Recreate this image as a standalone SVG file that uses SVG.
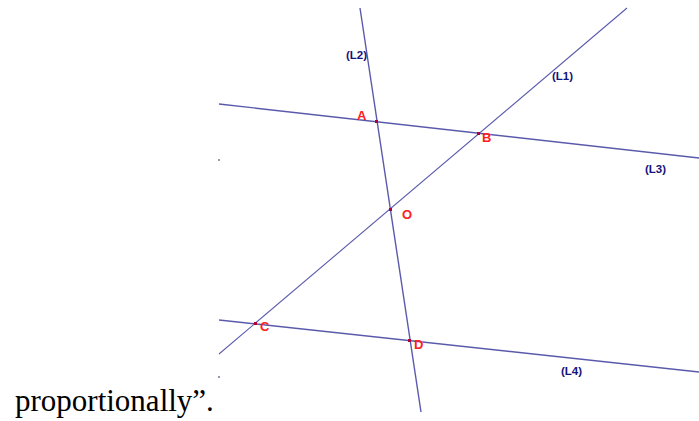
<svg xmlns="http://www.w3.org/2000/svg" width="699" height="421" viewBox="0 0 699 421">
<style>
.ln{stroke:#5a5aac;stroke-width:1.4;fill:none}
.lbl{font-family:"Liberation Sans",Arial,sans-serif;font-size:11.5px;font-weight:bold;fill:#14147a}
.pt{font-family:"Liberation Sans",Arial,sans-serif;font-size:13px;font-weight:bold;fill:#ff2020}
.dot{fill:#b0003a}
.cap{font-family:"Liberation Serif","Times New Roman",serif;font-size:31px;fill:#000}
</style>
<rect width="699" height="421" fill="#fff"/>
<g id="connectors">
<line id="L1" class="ln" x1="219" y1="354" x2="627" y2="8" style="stroke-width:1.1"/>
<line id="L2" class="ln" x1="360" y1="8" x2="421" y2="412"/>
<line id="L3" class="ln" x1="219" y1="104" x2="699" y2="158"/>
<line id="L4" class="ln" x1="219" y1="320" x2="699" y2="372"/>
</g>
<g id="line-labels">
<text class="lbl" x="346" y="59">(L2)</text>
<text class="lbl" x="552" y="80">(L1)</text>
<text class="lbl" x="645" y="173">(L3)</text>
<text class="lbl" x="561" y="375">(L4)</text>
</g>
<g id="A"><rect class="dot" x="375" y="120" width="3" height="3"/><text class="pt" x="357" y="120">A</text></g>
<g id="B"><rect class="dot" x="477" y="132" width="3" height="3"/><text class="pt" x="482" y="142">B</text></g>
<g id="O"><rect class="dot" x="389" y="208" width="3" height="3"/><text class="pt" x="402" y="219">O</text></g>
<g id="C"><rect class="dot" x="254" y="322" width="3" height="3"/><text class="pt" x="260" y="331">C</text></g>
<g id="D"><rect class="dot" x="408" y="339" width="3" height="3"/><text class="pt" x="414" y="349">D</text></g>
<g id="marks">
<rect x="218.5" y="159" width="1" height="2" fill="#333366"/>
<rect x="218.5" y="376" width="1" height="2" fill="#333366"/>
</g>
<text class="cap" x="15" y="411">proportionally”.</text>
</svg>
